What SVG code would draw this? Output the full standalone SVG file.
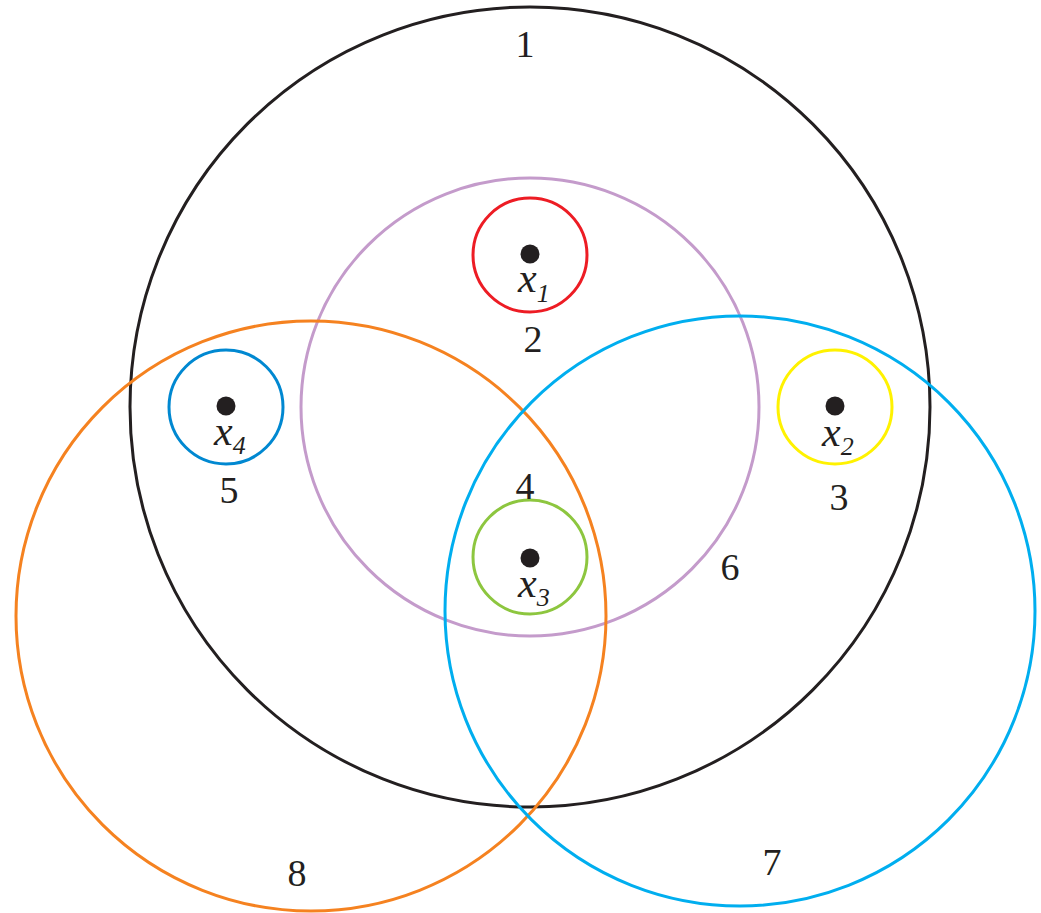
<svg xmlns="http://www.w3.org/2000/svg" width="1041" height="913" viewBox="0 0 1041 913">
<style>
.c{fill:none;stroke-width:3}
.n{font-size:38px;fill:#231f20;text-anchor:middle}
.x{font-style:italic;font-size:42px;fill:#231f20}
.s{font-size:26px}
.d{fill:#231f20}
</style>
<rect width="1041" height="913" fill="#fff"/>
<g id="circle-1"><circle class="c" cx="530" cy="407" r="400" stroke="#231f20"/></g>
<g id="circle-2"><circle class="c" cx="530" cy="407" r="229" stroke="#c49bcb"/></g>
<g id="circle-8"><circle class="c" cx="311" cy="616" r="295" stroke="#f58220"/></g>
<g id="circle-7"><circle class="c" cx="740" cy="611" r="295" stroke="#00aeef"/></g>
<g font-family="Liberation Serif, Times New Roman, serif">
<g id="x1"><circle class="c" cx="530" cy="255" r="57" stroke="#ed1c24"/><circle class="d" cx="530" cy="254" r="9.5"/><text class="x" x="518" y="292">x<tspan class="s" dy="10">1</tspan></text></g>
<g id="x4"><circle class="c" cx="226" cy="407" r="57" stroke="#0088d1"/><circle class="d" cx="226" cy="406" r="9.5"/><text class="x" x="214" y="445">x<tspan class="s" dy="9">4</tspan></text></g>
<g id="x2"><circle class="c" cx="835" cy="407" r="57" stroke="#fff200"/><circle class="d" cx="835" cy="406" r="9.5"/><text class="x" x="822" y="446">x<tspan class="s" dy="9">2</tspan></text></g>
<g id="x3"><circle class="c" cx="530" cy="557" r="57" stroke="#8dc63f"/><circle class="d" cx="530" cy="558" r="9.5"/><text class="x" x="518" y="597">x<tspan class="s" dy="9">3</tspan></text></g>
<g id="labels">
<text class="n" x="525" y="57">1</text>
<text class="n" x="533" y="352">2</text>
<text class="n" x="839" y="510">3</text>
<text class="n" x="525" y="499">4</text>
<text class="n" x="229" y="503">5</text>
<text class="n" x="730" y="580">6</text>
<text class="n" x="772" y="875">7</text>
<text class="n" x="297" y="886">8</text>
</g>
</g>
</svg>
